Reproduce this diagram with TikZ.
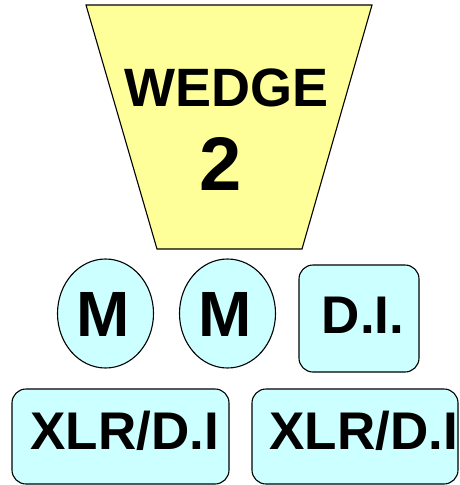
\documentclass[tikz,border=0pt]{standalone}
\usepackage{fontspec}
\setmainfont{Liberation Sans}
\usetikzlibrary{shapes.geometric}
\definecolor{wedgeyellow}{HTML}{FFFF99}
\definecolor{lightcyan}{HTML}{CCFFFF}
\begin{document}
\begin{tikzpicture}[x=1pt,y=-1pt,
  outline/.style={draw=black,line width=1.1pt},
  cyanbox/.style={outline,fill=lightcyan,rounded corners=14pt},
  oval/.style={outline,fill=lightcyan,ellipse,minimum width=96pt,minimum height=109pt,inner sep=0pt},
  lbl/.style={font=\bfseries\fontsize{#1}{#1}\selectfont,inner sep=0pt,anchor=base}
]
\useasboundingbox (0,0) rectangle (459,485);
% wedge
\draw[outline,fill=wedgeyellow] (86,5) -- (372,5) -- (302,249) -- (157,249) -- cycle;
\node[lbl=54] (wedgetxt) at (227,106) {WEDGE};
\node[lbl=76] (wedgenum) at (221,190) {2};
% ovals
\node[oval] (m1) at (105.5,313.5) {};
\node[oval] (m2) at (227.5,313.5) {};
\node[lbl=64] (m1txt) at (103,336) {M};
\node[lbl=64] (m2txt) at (225,336) {M};
% D.I. box
\draw[cyanbox] (299,265) rectangle (419,372);
\node[lbl=53] (ditxt) at (363,333) {D.I.};
% XLR boxes
\draw[cyanbox] (12,389) rectangle (229,484);
\draw[cyanbox] (252,389) rectangle (458,484);
\node[lbl=53] (xlr1) at (124.5,449) {XLR/D.I};
\node[lbl=53] (xlr2) at (363.5,449) {XLR/D.I};
\end{tikzpicture}
\end{document}
